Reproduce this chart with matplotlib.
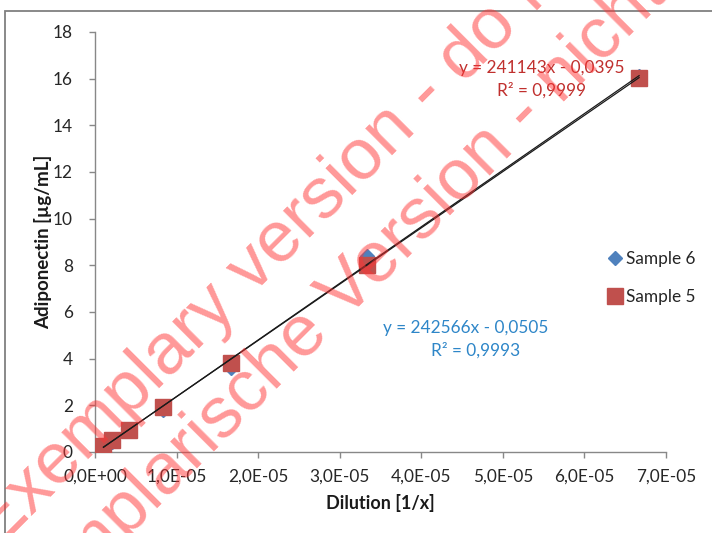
import numpy as np
import matplotlib
matplotlib.use("Agg")
from matplotlib import pyplot as plt
from matplotlib.patches import Rectangle
from matplotlib.ticker import FuncFormatter, MultipleLocator

# dilution factors 1/x
dilution = [1.04e-6, 2.08e-6, 4.17e-6, 8.33e-6, 1.67e-5, 3.33e-5, 6.67e-5]
sample5 = [0.26, 0.50, 0.96, 1.92, 3.83, 8.03, 16.02]
sample6 = [0.22, 0.45, 1.00, 1.82, 3.62, 8.38, 16.10]

# trendline coefficients (slope, intercept, r2) as printed on the chart
fit5 = (241143, -0.0395, "0,9999")
fit6 = (242566, -0.0505, "0,9993")

RED = "#C0504D"
BLUE = "#4F81BD"
W, H = 712, 533


def fx(px):
    return px / W


def fy(py):
    return 1 - py / H


plt.rcParams['font.family'] = ['Lato', 'DejaVu Sans']
fig = plt.figure(figsize=(W / 100, H / 100), dpi=100)
ax = fig.add_axes([fx(95), fy(452), fx(666) - fx(95), fy(32) - fy(452)])

ax.plot(dilution, sample6, linestyle='none', marker='D', markersize=7,
        color=BLUE, label='Sample 6', zorder=3)
ax.plot(dilution, sample5, linestyle='none', marker='s', markersize=11,
        color=RED, label='Sample 5', zorder=4)

xs = np.array([min(dilution), max(dilution)])
for slope, icpt, _ in (fit6, fit5):
    ax.plot(xs, slope * xs + icpt, color='#1a1a1a', lw=0.9, zorder=5)

ax.set_xlim(0, 7e-5)
ax.set_ylim(0, 18)
ax.xaxis.set_major_locator(MultipleLocator(1e-5))
ax.yaxis.set_major_locator(MultipleLocator(2))
ax.xaxis.set_major_formatter(FuncFormatter(lambda v, p: f"{v:.1E}".replace('.', ',')))
ax.yaxis.set_major_formatter(FuncFormatter(lambda v, p: f"{v:.0f}"))

for s in ('top', 'right'):
    ax.spines[s].set_visible(False)
for s in ('left', 'bottom'):
    ax.spines[s].set_color('#888888')
    ax.spines[s].set_linewidth(1.0)
ax.tick_params(axis='both', direction='out', length=4, width=1.0,
               color='#888888', labelsize=12.4, labelcolor='#262626')
ax.tick_params(axis='x', pad=8)
ax.tick_params(axis='y', pad=12)

ax.set_xlabel('Dilution [1/x]', fontsize=13, fontweight='bold', color='#1a1a1a')
ax.set_ylabel('Adiponectin [µg/mL]', fontsize=13.5, fontweight='bold', color='#1a1a1a')
ax.xaxis.set_label_coords(fx(380), fy(503), transform=fig.transFigure)
ax.yaxis.set_label_coords(fx(43), fy(242), transform=fig.transFigure)
ax.xaxis.label.set_va('center')
ax.yaxis.label.set_va('center')

fig.text(fx(542), fy(68), f"y = {fit5[0]}x - {abs(fit5[1]):.4f}".replace('.', ','),
         color='#C0302E', fontsize=12.4, ha='center', va='center')
fig.text(fx(542), fy(90), f"R² = {fit5[2]}", color='#C0302E', fontsize=12.4,
         ha='center', va='center')
fig.text(fx(466), fy(328), f"y = {fit6[0]}x - {abs(fit6[1]):.4f}".replace('.', ','),
         color='#2E86C8', fontsize=12.4, ha='center', va='center')
fig.text(fx(476), fy(350), f"R² = {fit6[2]}", color='#2E86C8', fontsize=12.4,
         ha='center', va='center')

leg = fig.legend(loc='upper left', bbox_to_anchor=(fx(607), fy(251)), frameon=False,
                 fontsize=12.4, handlelength=0.9, handletextpad=0.2,
                 labelspacing=1.25, borderaxespad=0, borderpad=0)
for t in leg.get_texts():
    t.set_color('#262626')

# outer chart border (cropped on right and bottom)
fig.patches.append(Rectangle((fx(5), -0.1), 1.2, fy(11) + 0.1, transform=fig.transFigure,
                             fill=False, edgecolor='#808080', lw=1.3))

# watermark
wm = dict(fontsize=52, color='#FF3333', alpha=0.5, rotation=45, rotation_mode='anchor',
          ha='left', va='baseline', family='Liberation Sans', zorder=10)
fig.text(fx(-3), fy(550), "Exemplary version - do not copy", **wm)
fig.text(fx(-5), fy(670), "Exemplarische Version - nicht kopieren", **wm)

fig.savefig('out.png', dpi=100)
